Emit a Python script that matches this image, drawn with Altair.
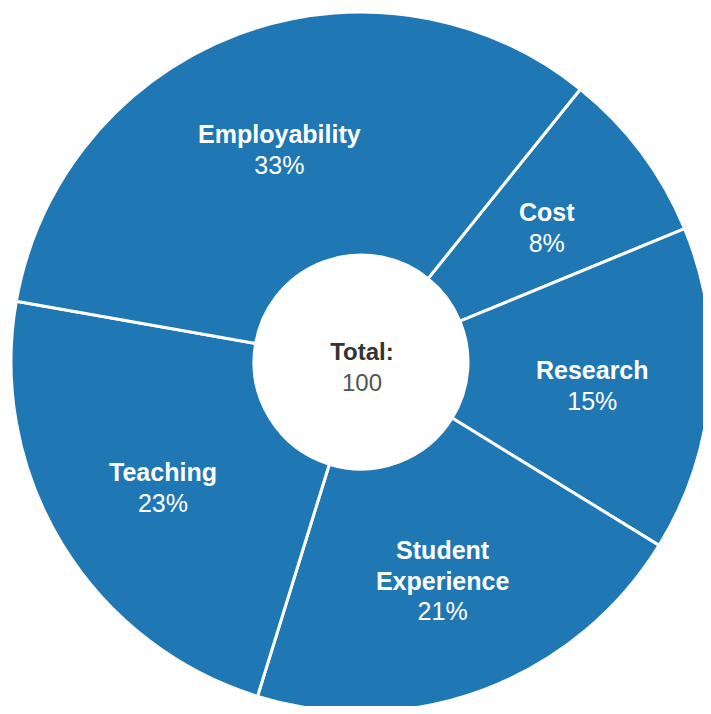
import math
import altair as alt
import pandas as pd

categories = ["Cost", "Research", "Student Experience", "Teaching", "Employability"]
values = [8, 15, 21, 23, 33]
name_lines = [["Cost"], ["Research"], ["Student", "Experience"], ["Teaching"], ["Employability"]]
total_label = "Total:"
total_value = "100"

rows = []
for i, (c, v, nl) in enumerate(zip(categories, values, name_lines)):
    rows.append({
        "category": c,
        "value": v,
        "idx": i,
        "nlines": len(nl),
        "name_txt": "\n".join(nl),
        "pct_txt": f"{v}%",
    })
df = pd.DataFrame(rows)

start = math.radians(38.8)
theta_scale = alt.Scale(domain=[0, sum(values)], range=[start, start + 2 * math.pi])

CX, CY = 353, 354
FONT = "Liberation Sans"
BLUE = "#1f77b4"
R_LABEL = 232

base = alt.Chart(df).encode(
    theta=alt.Theta("value:Q", stack=True, scale=theta_scale),
    order=alt.Order("idx:Q"),
    detail="category:N",
)

arcs = base.mark_arc(
    x=CX, y=CY, radius=350, radius2=107, color=BLUE, stroke="white", strokeWidth=3
)

def name_layer(n, dy):
    return base.mark_text(
        x=CX, y=CY, radius=R_LABEL, dy=dy, font=FONT, fontSize=25, fontWeight="bold",
        color="white", lineBreak="\n", lineHeight=31, align="center", baseline="middle"
    ).encode(
        text="name_txt:N",
        opacity=alt.condition(f"datum.nlines == {n}", alt.value(1), alt.value(0)),
    )

def pct_layer(n, dy):
    return base.mark_text(
        x=CX, y=CY, radius=R_LABEL, dy=dy, font=FONT, fontSize=25,
        color="white", align="center", baseline="middle"
    ).encode(
        text="pct_txt:N",
        opacity=alt.condition(f"datum.nlines == {n}", alt.value(1), alt.value(0)),
    )

names1 = name_layer(1, -10)
names2 = name_layer(2, -28)
pcts1 = pct_layer(1, 21)
pcts2 = pct_layer(2, 33)

center_df = pd.DataFrame({"t1": [total_label], "t2": [total_value]})
center1 = alt.Chart(center_df).mark_text(
    font=FONT, fontSize=24, fontWeight="bold", color="#333333", align="center", baseline="middle"
).encode(x=alt.value(CX + 1), y=alt.value(345), text="t1:N")
center2 = alt.Chart(center_df).mark_text(
    font=FONT, fontSize=24, color="#555555", align="center", baseline="middle"
).encode(x=alt.value(CX + 1), y=alt.value(376), text="t2:N")

chart = alt.layer(arcs, names1, names2, pcts1, pcts2, center1, center2).properties(
    width=695, height=698, padding=0, autosize=alt.AutoSizeParams(type="none")
).configure_view(stroke=None)

chart.save("out.html", embed_options={"renderer": "svg", "actions": False})
